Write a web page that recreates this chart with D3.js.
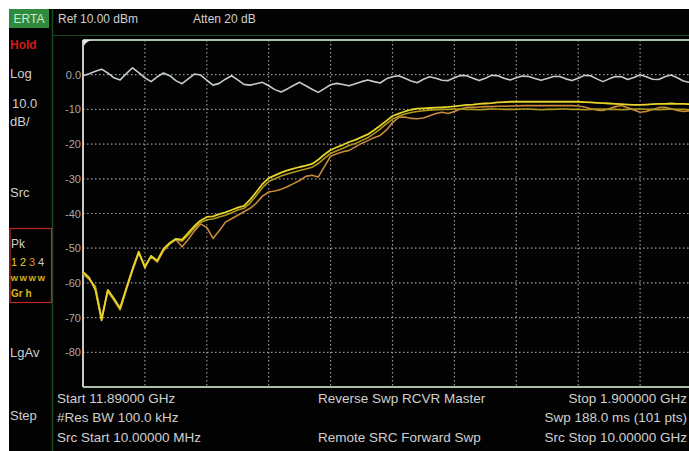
<!DOCTYPE html>
<html><head><meta charset="utf-8">
<script src="https://cdn.jsdelivr.net/npm/d3@7"></script>
<style>
html,body{margin:0;padding:0;background:#fff;}
svg{display:block;}
text{font-family:"Liberation Sans",Arial,sans-serif;}
</style></head>
<body>
<svg id="c" width="689" height="451"></svg>
<script>
// ---- data ----
const yTicks = [0, -10, -20, -30, -40, -50, -60, -70, -80];
const yTickLabels = ["0.0", "-10", "-20", "-30", "-40", "-50", "-60", "-70", "-80"];
const xDivisions = [0, 10, 20, 30, 40, 50, 60, 70, 80, 90, 100];
const trace4 = [ // grey reference trace (dBm)
 -0.3,0.3,1.0,1.6,0.5,-0.9,-1.5,0.3,2.0,0.6,
 -0.9,-2.0,-0.6,0.5,-0.3,-1.7,-2.6,-1.2,0.2,-0.1,
 -1.6,-3.0,-2.5,-1.3,-0.3,-1.5,-2.8,-3.0,-2.6,-2.2,
 -3.2,-4.3,-5.0,-4.1,-3.1,-2.2,-3.2,-4.2,-5.1,-4.0,
 -2.9,-2.5,-2.8,-3.2,-2.6,-2.0,-1.5,-2.0,-2.4,-1.2,
 -0.6,-0.3,-1.0,-1.8,-2.3,-1.3,-0.6,-1.0,-1.6,-1.7,
 -0.9,-0.2,-0.3,-1.0,-1.7,-1.0,-0.2,-0.3,-1.0,-1.5,
 -0.9,-0.4,-0.5,-1.1,-1.6,-1.1,-0.5,-0.5,-1.2,-1.7,
 -1.0,-0.2,-0.3,-1.2,-2.0,-1.2,-0.5,-0.6,-1.4,-0.8,
 0.0,-0.6,-1.3,-1.4,-0.6,-0.1,-0.9,-1.8,-2.2,-1.5,-0.8];
const trace1 = [ // bright yellow
 -56.8,-58.5,-62.0,-70.8,-62.0,-64.5,-67.2,-61.5,-56.0,-51.0,
 -55.6,-52.2,-53.6,-50.2,-48.5,-47.3,-47.5,-45.6,-43.6,-42.0,
 -41.0,-40.8,-40.2,-39.7,-39.0,-38.3,-37.8,-36.0,-33.8,-31.5,
 -29.8,-29.0,-28.2,-27.6,-27.1,-26.6,-26.2,-25.7,-24.5,-23.0,
 -21.7,-20.9,-20.2,-19.4,-18.8,-18.0,-17.2,-16.0,-14.7,-13.3,
 -11.9,-11.2,-10.6,-10.1,-9.8,-9.7,-9.6,-9.5,-9.4,-9.3,
 -9.1,-8.9,-8.7,-8.6,-8.4,-8.3,-8.2,-8.0,-7.9,-7.8,
 -7.8,-7.8,-7.8,-7.8,-7.8,-7.8,-7.8,-7.8,-7.8,-7.8,
 -7.8,-7.9,-8.0,-8.1,-8.2,-8.3,-8.4,-8.5,-8.6,-8.7,
 -8.7,-8.6,-8.5,-8.4,-8.4,-8.3,-8.4,-8.4,-8.5,-8.5,-8.6];
const trace2 = [ // dark yellow
 -57.0,-58.8,-61.5,-70.5,-62.2,-64.8,-67.5,-61.8,-56.2,-51.2,
 -55.3,-52.3,-53.8,-50.5,-48.7,-47.5,-48.0,-46.2,-44.2,-42.6,
 -41.8,-41.6,-41.0,-40.5,-39.8,-39.0,-38.5,-37.0,-34.8,-32.5,
 -30.8,-30.0,-29.2,-28.6,-28.1,-27.6,-27.2,-26.7,-25.6,-24.1,
 -22.7,-21.9,-21.2,-20.4,-19.8,-19.0,-18.2,-17.0,-15.7,-14.2,
 -12.8,-12.0,-11.3,-10.9,-10.6,-10.4,-10.2,-10.1,-10.0,-10.0,
 -9.9,-9.9,-10.0,-10.0,-10.1,-10.0,-9.9,-9.9,-10.0,-10.0,
 -10.0,-9.9,-9.9,-10.0,-10.1,-10.0,-10.0,-9.9,-9.9,-10.0,
 -10.0,-10.1,-10.0,-9.9,-9.9,-10.0,-10.0,-10.1,-10.0,-9.9,
 -9.9,-10.0,-10.0,-10.1,-10.0,-9.9,-10.0,-10.0,-10.1,-10.0,-10.0];
const trace3 = [ // orange
 -57.5,-59.0,-61.0,-70.0,-62.5,-65.0,-67.8,-62.0,-56.5,-51.5,
 -55.0,-52.5,-54.0,-50.8,-48.8,-47.5,-49.6,-47.5,-45.0,-43.0,
 -44.0,-47.2,-45.0,-42.5,-41.5,-40.5,-39.5,-38.5,-37.0,-35.0,
 -33.8,-33.5,-33.0,-32.3,-31.4,-30.5,-29.3,-29.0,-29.5,-26.5,
 -23.5,-22.8,-22.2,-21.8,-20.8,-19.8,-19.0,-18.2,-17.5,-16.0,
 -13.8,-12.3,-12.2,-12.6,-12.7,-12.5,-11.8,-11.2,-10.8,-11.2,
 -10.6,-9.9,-9.4,-9.4,-9.3,-9.2,-9.2,-9.1,-9.1,-9.0,
 -9.0,-8.9,-8.9,-8.9,-8.9,-8.9,-8.9,-8.9,-8.9,-8.9,
 -9.0,-9.3,-9.8,-10.2,-10.3,-9.8,-9.2,-8.9,-9.5,-10.2,
 -10.8,-10.6,-10.0,-9.5,-9.4,-9.8,-10.3,-10.6,-10.4,-10.0,-9.8];
const headerTexts = ["Ref 10.00 dBm", "Atten 20 dB"];
const sideLabels = ["Log", "10.0", "dB/", "Src", "LgAv", "Step"];
const footLeft = ["Start 11.89000 GHz", "#Res BW 100.0 kHz", "Src Start 10.00000 MHz"];
const footMid = ["Reverse Swp RCVR Master", "", "Remote SRC Forward Swp"];
const footRight = ["Stop 1.900000 GHz", "Swp 188.0 ms (101 pts)", "Src Stop 10.00000 GHz"];

// ---- drawing ----
const svg = d3.select("#c");
const W = 689, H = 451;
const L = 83, R = 702, T = 40, B = 387;
const x = d3.scaleLinear().domain([0, 100]).range([L, R]);
const y = d3.scaleLinear().domain([10, -90]).range([T, B]);

svg.append("rect").attr("x", 9).attr("y", 9).attr("width", W - 9).attr("height", H - 9).attr("fill", "#020202");

// header / side separators
svg.append("line").attr("x1", 52.5).attr("x2", 52.5).attr("y1", 9).attr("y2", H).attr("stroke", "#1c4a22").attr("stroke-width", 1.5);
svg.append("line").attr("x1", 52).attr("x2", W).attr("y1", 35.5).attr("y2", 35.5).attr("stroke", "#1c4a22").attr("stroke-width", 1);
svg.append("rect").attr("x", 9).attr("y", 9).attr("width", 40).attr("height", 19).attr("fill", "#2f8a3c");
svg.append("text").attr("x", 29).attr("y", 23).attr("text-anchor", "middle").attr("fill", "#cfe8cf").attr("font-size", 12).text("ERTA");
svg.selectAll("text.hdr").data(headerTexts).join("text").attr("class", "hdr")
  .attr("x", (d, i) => [58, 193][i]).attr("y", 23).attr("fill", "#d0d0d0").attr("font-size", 12).text(d => d);

// side panel
svg.append("text").attr("x", 10).attr("y", 49).attr("fill", "#d01818").attr("font-size", 12).attr("font-weight", "bold").text("Hold");
const sideY = [78, 108, 126, 197, 357, 420];
svg.selectAll("text.side").data(sideLabels).join("text").attr("class", "side")
  .attr("x", (d, i) => i === 1 ? 12 : 10).attr("y", (d, i) => sideY[i]).attr("fill", "#cfcfcf").attr("font-size", 13).text(d => d);
svg.append("rect").attr("x", 10).attr("y", 228.5).attr("width", 41.5).attr("height", 74).attr("fill", "none").attr("stroke", "#c02828").attr("stroke-width", 1.2);
svg.append("text").attr("x", 11).attr("y", 248).attr("fill", "#cfcfcf").attr("font-size", 12).text("Pk");
const pkCols = ["#e8d020", "#e8d020", "#e0902a", "#c8c8c8"];
["1", "2", "3", "4"].forEach((d, i) => {
  svg.append("text").attr("x", 11 + i * 9).attr("y", 266).attr("fill", pkCols[i]).attr("font-size", 11).text(d);
  svg.append("text").attr("x", 10.5 + i * 9).attr("y", 281).attr("fill", "#d8b818").attr("font-size", 8).attr("font-weight", "bold").text("W");
});
svg.append("text").attr("x", 11).attr("y", 297).attr("fill", "#d8b818").attr("font-size", 10).attr("font-weight", "bold").text("Gr  h");

// grid
svg.selectAll("line.hg").data(yTicks).join("line").attr("class", "hg")
  .attr("x1", L).attr("x2", W).attr("y1", d => y(d)).attr("y2", d => y(d))
  .attr("stroke", "#9a9a9a").attr("stroke-width", 1.2).attr("stroke-dasharray", "1.5,2.5");
svg.selectAll("line.vg").data(xDivisions.slice(1, 10)).join("line").attr("class", "vg")
  .attr("x1", d => x(d)).attr("x2", d => x(d)).attr("y1", T).attr("y2", B)
  .attr("stroke", "#9a9a9a").attr("stroke-width", 1.2).attr("stroke-dasharray", "1.5,2.5");

// frame
svg.append("line").attr("x1", L).attr("x2", W).attr("y1", T).attr("y2", T).attr("stroke", "#a8c0a8").attr("stroke-width", 2);
svg.append("line").attr("x1", L).attr("x2", W).attr("y1", B).attr("y2", B).attr("stroke", "#a8c0a8").attr("stroke-width", 2);
svg.append("line").attr("x1", L).attr("x2", L).attr("y1", T).attr("y2", B).attr("stroke", "#c8c8c8").attr("stroke-width", 2);
svg.append("path").attr("d", `M${L},${T} L${L + 10},${T} Q${L + 3},${T + 1} ${L + 1},${T + 6} Z`).attr("fill", "#e8e8e8");

// y axis labels
const yAxis = d3.axisLeft(y).tickValues(yTicks).tickSize(0).tickPadding(2)
  .tickFormat((d, i) => yTickLabels[i]);
const ya = svg.append("g").attr("transform", `translate(${L},0)`).call(yAxis);
ya.select(".domain").remove();
ya.selectAll("text").attr("fill", "#a8a8a8").attr("font-size", 11).attr("font-family", "Liberation Sans, Arial, sans-serif");

// traces
const line = d3.line().x((d, i) => x(i)).y(d => y(d));
const g = svg.append("g");
g.append("path").datum(trace3).attr("d", line).attr("fill", "none").attr("stroke", "#c88a3a").attr("stroke-width", 1.6).attr("stroke-linejoin", "round");
g.append("path").datum(trace2).attr("d", line).attr("fill", "none").attr("stroke", "#b09a1a").attr("stroke-width", 1.6).attr("stroke-linejoin", "round");
g.append("path").datum(trace1).attr("d", line).attr("fill", "none").attr("stroke", "#e8d428").attr("stroke-width", 1.8).attr("stroke-linejoin", "round");
g.append("path").datum(trace4).attr("d", line).attr("fill", "none").attr("stroke", "#c4ccd0").attr("stroke-width", 1.6).attr("stroke-linejoin", "round");

// footer
const fy = [403, 422, 442];
svg.selectAll("text.fl").data(footLeft).join("text").attr("class", "fl")
  .attr("x", 57).attr("y", (d, i) => fy[i]).attr("fill", "#d0d0d0").attr("font-size", 13.5).text(d => d);
svg.selectAll("text.fm").data(footMid).join("text").attr("class", "fm")
  .attr("x", 318).attr("y", (d, i) => fy[i]).attr("fill", "#d0d0d0").attr("font-size", 13.5).text(d => d);
svg.selectAll("text.fr").data(footRight).join("text").attr("class", "fr")
  .attr("x", 687).attr("y", (d, i) => fy[i]).attr("text-anchor", "end").attr("fill", "#d0d0d0").attr("font-size", 13.5).text(d => d);
</script>
</body></html>
